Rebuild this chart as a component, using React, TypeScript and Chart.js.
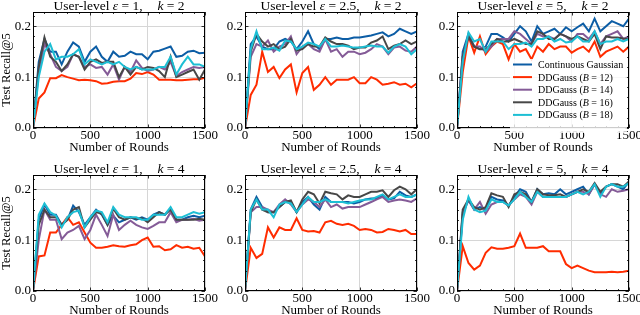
import React, { useEffect, useRef } from "react";
import { Chart, registerables } from "chart.js";
Chart.register(...registerables);

const rounds = [0, 50, 100, 150, 200, 250, 300, 350, 400, 450, 500, 550, 600, 650, 700, 750, 800, 850, 900, 950, 1000, 1050, 1100, 1150, 1200, 1250, 1300, 1350, 1400, 1450, 1500];

// eps = 1, k = 2
const e1k2Cont = [0, 0.13, 0.175, 0.15, 0.15, 0.125, 0.15, 0.168, 0.16, 0.13, 0.15, 0.16, 0.14, 0.13, 0.15, 0.14, 0.142, 0.15, 0.145, 0.145, 0.135, 0.15, 0.152, 0.156, 0.16, 0.14, 0.142, 0.15, 0.152, 0.147, 0.148];
const e1k2B12 = [0, 0.058, 0.07, 0.098, 0.098, 0.104, 0.1, 0.097, 0.094, 0.095, 0.094, 0.092, 0.087, 0.088, 0.091, 0.092, 0.092, 0.097, 0.108, 0.106, 0.11, 0.105, 0.095, 0.095, 0.095, 0.094, 0.094, 0.095, 0.096, 0.096, 0.099];
const e1k2B14 = [0, 0.11, 0.165, 0.145, 0.12, 0.112, 0.12, 0.145, 0.14, 0.12, 0.125, 0.118, 0.12, 0.105, 0.125, 0.095, 0.12, 0.11, 0.133, 0.118, 0.112, 0.115, 0.12, 0.115, 0.13, 0.102, 0.11, 0.115, 0.12, 0.118, 0.12];
const e1k2B16 = [0, 0.12, 0.178, 0.14, 0.13, 0.112, 0.125, 0.145, 0.14, 0.115, 0.13, 0.135, 0.128, 0.13, 0.13, 0.1, 0.12, 0.105, 0.12, 0.115, 0.12, 0.118, 0.112, 0.1, 0.14, 0.1, 0.105, 0.11, 0.115, 0.095, 0.115];
const e1k2B18 = [0, 0.1, 0.15, 0.165, 0.135, 0.14, 0.14, 0.145, 0.155, 0.125, 0.135, 0.13, 0.125, 0.13, 0.125, 0.13, 0.12, 0.115, 0.12, 0.115, 0.115, 0.115, 0.12, 0.12, 0.14, 0.105, 0.125, 0.14, 0.125, 0.125, 0.12];

// eps = 2.5, k = 2
const e25k2Cont = [0, 0.165, 0.18, 0.16, 0.155, 0.155, 0.17, 0.175, 0.17, 0.155, 0.17, 0.19, 0.165, 0.155, 0.175, 0.175, 0.178, 0.175, 0.175, 0.178, 0.178, 0.18, 0.182, 0.185, 0.188, 0.18, 0.185, 0.195, 0.19, 0.185, 0.19];
const e25k2B12 = [0, 0.065, 0.085, 0.15, 0.11, 0.12, 0.098, 0.115, 0.125, 0.07, 0.108, 0.12, 0.075, 0.085, 0.1, 0.085, 0.095, 0.095, 0.095, 0.1, 0.088, 0.088, 0.1, 0.095, 0.085, 0.087, 0.09, 0.085, 0.087, 0.08, 0.088];
const e25k2B14 = [0, 0.14, 0.165, 0.16, 0.172, 0.15, 0.16, 0.165, 0.18, 0.145, 0.16, 0.165, 0.155, 0.15, 0.175, 0.15, 0.155, 0.14, 0.15, 0.15, 0.145, 0.148, 0.155, 0.165, 0.16, 0.145, 0.158, 0.16, 0.152, 0.15, 0.16];
const e25k2B16 = [0, 0.15, 0.185, 0.17, 0.16, 0.165, 0.155, 0.16, 0.175, 0.152, 0.155, 0.165, 0.16, 0.16, 0.178, 0.17, 0.165, 0.165, 0.162, 0.155, 0.158, 0.158, 0.168, 0.172, 0.18, 0.155, 0.162, 0.165, 0.172, 0.165, 0.17];
const e25k2B18 = [0, 0.155, 0.19, 0.155, 0.155, 0.158, 0.152, 0.172, 0.17, 0.155, 0.16, 0.168, 0.165, 0.16, 0.175, 0.16, 0.16, 0.162, 0.16, 0.158, 0.158, 0.16, 0.162, 0.16, 0.16, 0.148, 0.16, 0.165, 0.16, 0.145, 0.155];

// eps = 5, k = 2
const e5k2Cont = [0, 0.15, 0.185, 0.16, 0.155, 0.16, 0.185, 0.185, 0.178, 0.17, 0.185, 0.2, 0.19, 0.17, 0.2, 0.185, 0.19, 0.195, 0.185, 0.198, 0.19, 0.198, 0.205, 0.19, 0.215, 0.19, 0.2, 0.21, 0.205, 0.2, 0.215];
const e5k2B12 = [0, 0.11, 0.18, 0.148, 0.18, 0.145, 0.16, 0.17, 0.165, 0.135, 0.165, 0.15, 0.155, 0.135, 0.16, 0.15, 0.165, 0.155, 0.16, 0.16, 0.148, 0.155, 0.16, 0.15, 0.17, 0.14, 0.15, 0.155, 0.16, 0.15, 0.16];
const e5k2B14 = [0, 0.14, 0.18, 0.16, 0.16, 0.15, 0.16, 0.175, 0.175, 0.175, 0.19, 0.185, 0.175, 0.165, 0.185, 0.18, 0.18, 0.175, 0.185, 0.18, 0.17, 0.185, 0.185, 0.175, 0.19, 0.165, 0.18, 0.185, 0.19, 0.175, 0.18];
const e5k2B16 = [0, 0.14, 0.18, 0.16, 0.155, 0.155, 0.165, 0.175, 0.17, 0.17, 0.175, 0.17, 0.165, 0.165, 0.19, 0.185, 0.175, 0.175, 0.185, 0.18, 0.175, 0.18, 0.175, 0.17, 0.185, 0.155, 0.18, 0.178, 0.178, 0.176, 0.175];
const e5k2B18 = [0, 0.13, 0.188, 0.17, 0.175, 0.15, 0.17, 0.17, 0.17, 0.155, 0.165, 0.165, 0.168, 0.16, 0.175, 0.175, 0.18, 0.17, 0.175, 0.168, 0.17, 0.18, 0.17, 0.17, 0.19, 0.165, 0.17, 0.17, 0.175, 0.17, 0.175];

// eps = 1, k = 4
const e1k4Cont = [0, 0.14, 0.17, 0.15, 0.15, 0.13, 0.14, 0.168, 0.155, 0.13, 0.145, 0.16, 0.15, 0.13, 0.148, 0.135, 0.14, 0.145, 0.14, 0.145, 0.14, 0.15, 0.155, 0.15, 0.162, 0.14, 0.14, 0.145, 0.148, 0.145, 0.148];
const e1k4B12 = [0, 0.068, 0.07, 0.115, 0.115, 0.13, 0.145, 0.13, 0.135, 0.115, 0.095, 0.085, 0.085, 0.087, 0.09, 0.088, 0.087, 0.09, 0.092, 0.1, 0.105, 0.087, 0.088, 0.08, 0.082, 0.09, 0.085, 0.087, 0.083, 0.085, 0.068];
const e1k4B14 = [0, 0.1, 0.16, 0.14, 0.14, 0.102, 0.115, 0.12, 0.128, 0.102, 0.12, 0.15, 0.13, 0.108, 0.15, 0.12, 0.13, 0.138, 0.13, 0.125, 0.122, 0.128, 0.135, 0.135, 0.155, 0.135, 0.14, 0.14, 0.142, 0.138, 0.14];
const e1k4B16 = [0, 0.13, 0.16, 0.145, 0.145, 0.13, 0.14, 0.16, 0.165, 0.125, 0.14, 0.155, 0.152, 0.13, 0.162, 0.145, 0.14, 0.145, 0.142, 0.143, 0.135, 0.145, 0.155, 0.15, 0.16, 0.14, 0.14, 0.14, 0.14, 0.142, 0.14];
const e1k4B18 = [0, 0.15, 0.172, 0.155, 0.148, 0.125, 0.145, 0.155, 0.158, 0.125, 0.145, 0.158, 0.155, 0.135, 0.165, 0.15, 0.145, 0.145, 0.145, 0.14, 0.14, 0.15, 0.15, 0.15, 0.165, 0.145, 0.145, 0.15, 0.155, 0.152, 0.155];

// eps = 2.5, k = 4
const e25k4Cont = [0, 0.16, 0.185, 0.165, 0.155, 0.155, 0.165, 0.175, 0.175, 0.155, 0.175, 0.185, 0.17, 0.16, 0.185, 0.175, 0.175, 0.175, 0.175, 0.172, 0.175, 0.18, 0.182, 0.182, 0.188, 0.18, 0.182, 0.195, 0.188, 0.185, 0.19];
const e25k4B12 = [0, 0.085, 0.065, 0.073, 0.125, 0.105, 0.125, 0.12, 0.12, 0.143, 0.12, 0.117, 0.118, 0.115, 0.135, 0.138, 0.132, 0.13, 0.132, 0.128, 0.12, 0.122, 0.12, 0.115, 0.116, 0.122, 0.12, 0.117, 0.12, 0.112, 0.112];
const e25k4B14 = [0, 0.155, 0.165, 0.165, 0.16, 0.155, 0.17, 0.18, 0.17, 0.155, 0.17, 0.18, 0.175, 0.165, 0.18, 0.165, 0.17, 0.162, 0.165, 0.165, 0.165, 0.17, 0.175, 0.18, 0.185, 0.175, 0.178, 0.18, 0.178, 0.175, 0.182];
const e25k4B16 = [0, 0.155, 0.18, 0.16, 0.155, 0.155, 0.165, 0.175, 0.178, 0.155, 0.18, 0.195, 0.19, 0.172, 0.195, 0.192, 0.19, 0.18, 0.188, 0.185, 0.185, 0.19, 0.195, 0.195, 0.198, 0.185, 0.198, 0.205, 0.2, 0.19, 0.2];
const e25k4B18 = [0, 0.16, 0.18, 0.16, 0.16, 0.145, 0.17, 0.175, 0.172, 0.155, 0.17, 0.185, 0.175, 0.175, 0.18, 0.175, 0.175, 0.175, 0.172, 0.175, 0.178, 0.18, 0.18, 0.185, 0.19, 0.18, 0.185, 0.19, 0.185, 0.185, 0.19];

// eps = 5, k = 4
const e5k4Cont = [0, 0.155, 0.178, 0.16, 0.165, 0.16, 0.185, 0.18, 0.178, 0.168, 0.185, 0.2, 0.195, 0.175, 0.2, 0.19, 0.192, 0.19, 0.2, 0.19, 0.195, 0.2, 0.205, 0.19, 0.21, 0.19, 0.205, 0.21, 0.205, 0.2, 0.215];
const e5k4B12 = [0, 0.088, 0.055, 0.042, 0.05, 0.075, 0.086, 0.083, 0.083, 0.085, 0.088, 0.113, 0.085, 0.085, 0.085, 0.088, 0.078, 0.078, 0.078, 0.053, 0.045, 0.05, 0.045, 0.04, 0.037, 0.037, 0.037, 0.038, 0.037, 0.038, 0.04];
const e5k4B14 = [0, 0.15, 0.18, 0.16, 0.175, 0.152, 0.17, 0.175, 0.175, 0.168, 0.18, 0.19, 0.185, 0.17, 0.195, 0.185, 0.185, 0.185, 0.185, 0.185, 0.19, 0.195, 0.195, 0.19, 0.21, 0.19, 0.185, 0.2, 0.195, 0.197, 0.2];
const e5k4B16 = [0, 0.16, 0.18, 0.165, 0.16, 0.165, 0.192, 0.188, 0.185, 0.165, 0.19, 0.195, 0.19, 0.175, 0.2, 0.19, 0.188, 0.188, 0.19, 0.185, 0.19, 0.195, 0.2, 0.195, 0.212, 0.195, 0.205, 0.21, 0.21, 0.205, 0.215];
const e5k4B18 = [0, 0.14, 0.185, 0.16, 0.155, 0.158, 0.18, 0.175, 0.175, 0.168, 0.18, 0.195, 0.185, 0.175, 0.195, 0.185, 0.185, 0.185, 0.185, 0.185, 0.19, 0.195, 0.19, 0.195, 0.21, 0.185, 0.205, 0.21, 0.205, 0.205, 0.212];

const epsLabels = ["1", "2.5", "5"];
const kLabels = ["2", "4"];
const seriesBase = ["Continuous Gaussian", "DDGauss", "DDGauss", "DDGauss", "DDGauss"];
const seriesB = ["", "12", "14", "16", "18"];
const seriesColors = ["#0C5DA5", "#FF2C00", "#845B97", "#474747", "#1DBFD4"];
const xMajorTicks = [0, 500, 1000, 1500];
const xMinorTicks = [100, 200, 300, 400, 600, 700, 800, 900, 1100, 1200, 1300, 1400];
const yMajorTicks = [0, 0.1, 0.2];
const yMinorTicks = [0.02, 0.04, 0.06, 0.08, 0.12, 0.14, 0.16, 0.18, 0.22];

const panelSeries = [
  [e1k2Cont, e1k2B12, e1k2B14, e1k2B16, e1k2B18],
  [e25k2Cont, e25k2B12, e25k2B14, e25k2B16, e25k2B18],
  [e5k2Cont, e5k2B12, e5k2B14, e5k2B16, e5k2B18],
  [e1k4Cont, e1k4B12, e1k4B14, e1k4B16, e1k4B18],
  [e25k4Cont, e25k4B12, e25k4B14, e25k4B16, e25k4B18],
  [e5k4Cont, e5k4B12, e5k4B14, e5k4B16, e5k4B18],
];

const FONT = '"Liberation Serif", "Times New Roman", serif';
const COL_LEFT = [33, 245, 457];
const ROW_TOP = [12, 175];
const AREA_W = 172;
const AREA_H = 116;
const Y_AXIS_W = 33;
const X_AXIS_H = 28;
const PAD_TOP = 12;
const PAD_RIGHT = 16;
const CANVAS_W = Y_AXIS_W + AREA_W + PAD_RIGHT;
const CANVAS_H = PAD_TOP + AREA_H + X_AXIS_H;

type Part = { t: string; it?: boolean; gap?: number };

function drawParts(ctx: CanvasRenderingContext2D, parts: Part[], x: number, y: number, size: number, align: "center" | "left") {
  const widths = parts.map((p) => {
    ctx.font = `${p.it ? "italic " : ""}${size}px ${FONT}`;
    return ctx.measureText(p.t).width + (p.gap || 0) * size;
  });
  const total = widths.reduce((a, b) => a + b, 0);
  let cx = align === "center" ? x - total / 2 : x;
  ctx.textAlign = "left";
  ctx.textBaseline = "alphabetic";
  parts.forEach((p, i) => {
    ctx.font = `${p.it ? "italic " : ""}${size}px ${FONT}`;
    ctx.fillText(p.t, cx, y);
    cx += widths[i];
  });
}

const decorPlugin = {
  id: "decor",
  afterDatasetsDraw(chart: any, _args: any, opts: any) {
    const { ctx, chartArea: a, scales } = chart;
    const xs = scales.x;
    const ys = scales.y;
    ctx.save();
    ctx.strokeStyle = "#000";
    ctx.lineWidth = 0.8;
    const tick = (x1: number, y1: number, x2: number, y2: number) => {
      ctx.beginPath();
      ctx.moveTo(x1, y1);
      ctx.lineTo(x2, y2);
      ctx.stroke();
    };
    const xt = (vals: number[], len: number) => {
      vals.forEach((v) => {
        const px = Math.round(xs.getPixelForValue(v)) + 0.5;
        tick(px, a.bottom, px, a.bottom - len);
        tick(px, a.top, px, a.top + len);
      });
    };
    const yt = (vals: number[], len: number) => {
      vals.forEach((v) => {
        const py = Math.round(ys.getPixelForValue(v)) + 0.5;
        tick(a.left, py, a.left + len, py);
        tick(a.right, py, a.right - len, py);
      });
    };
    xt(xMajorTicks, 3.5);
    xt(xMinorTicks, 2);
    yt(yMajorTicks, 3.5);
    yt(yMinorTicks, 2);
    ctx.lineWidth = 1;
    ctx.strokeRect(Math.round(a.left) + 0.5, Math.round(a.top) + 0.5, Math.round(a.right - a.left) - 1, Math.round(a.bottom - a.top) - 1);

    // title
    ctx.fillStyle = "#000";
    drawParts(
      ctx,
      [
        { t: "User-level " },
        { t: "ε", it: true },
        { t: " = " + opts.eps + ",", gap: 1.1 },
        { t: "k", it: true },
        { t: " = " + opts.k },
      ],
      (a.left + a.right) / 2,
      a.top - 2.5,
      13.5,
      "center"
    );

    if (opts.legend) {
      ctx.fillStyle = "rgba(255,255,255,0.8)";
      ctx.fillRect(a.right - 119, a.top + 47, 117, 74);
      for (let i = 0; i < seriesBase.length; i++) {
        const y = a.top + 52.5 + i * 12.6;
        ctx.strokeStyle = seriesColors[i];
        ctx.lineWidth = 2;
        tick(a.right - 116, y, a.right - 97, y);
        ctx.fillStyle = "#000";
        const parts: Part[] = seriesB[i]
          ? [{ t: seriesBase[i] + " (" }, { t: "B", it: true }, { t: " = " + seriesB[i] + ")" }]
          : [{ t: seriesBase[i] }];
        drawParts(ctx, parts, a.right - 91, y + 3.5, 10, "left");
      }
    }
    ctx.restore();
  },
};

export default function App() {
  const refs = useRef<(HTMLCanvasElement | null)[]>([]);
  useEffect(() => {
    const charts: Chart[] = [];
    panelSeries.forEach((series, idx) => {
      const col = idx % 3;
      const row = Math.floor(idx / 3);
      const canvas = refs.current[idx];
      if (!canvas) return;
      const chart = new Chart(canvas, {
        type: "line",
        data: {
          datasets: series.map((vals, si) => ({
            label: seriesBase[si] + (seriesB[si] ? ` (B = ${seriesB[si]})` : ""),
            data: rounds.map((r, i) => ({ x: r, y: vals[i] })),
            borderColor: seriesColors[si],
            backgroundColor: seriesColors[si],
            borderWidth: 2,
            pointRadius: 0,
            tension: 0,
            order: series.length - si,
          })),
        },
        options: {
          animation: false,
          responsive: false,
          devicePixelRatio: 1,
          layout: { padding: { top: PAD_TOP, right: PAD_RIGHT, left: 0, bottom: 0 } },
          plugins: {
            legend: { display: false },
            tooltip: { enabled: false },
            decor: { eps: epsLabels[col], k: kLabels[row], legend: idx === 2 },
          } as any,
          scales: {
            x: {
              type: "linear",
              min: 0,
              max: 1500,
              afterFit: (s: any) => {
                s.height = X_AXIS_H;
              },
              ticks: {
                stepSize: 500,
                padding: 0,
                color: "#000",
                font: { family: FONT, size: 13 },
                maxRotation: 0,
                callback: (v: any) => String(v),
              },
              grid: { color: "#d6d6d6", lineWidth: 1, drawTicks: false },
              border: { display: false },
              title: {
                display: true,
                text: "Number of Rounds",
                color: "#000",
                font: { family: FONT, size: 13 },
                padding: { top: 0, bottom: 1 },
              },
            },
            y: {
              type: "linear",
              min: 0,
              max: 0.228,
              afterFit: (s: any) => {
                s.width = Y_AXIS_W;
              },
              ticks: {
                stepSize: 0.1,
                includeBounds: false,
                padding: 2,
                color: "#000",
                font: { family: FONT, size: 13 },
                callback: (v: any) => Number(v).toFixed(1),
              },
              grid: { color: "#d6d6d6", lineWidth: 1, drawTicks: false },
              border: { display: false },
              title: {
                display: col === 0,
                text: "Test Recall@5",
                color: "#000",
                font: { family: FONT, size: 12.5, lineHeight: 1.0 },
                padding: { top: 0, bottom: 0 },
              },
            },
          },
        },
        plugins: [decorPlugin],
      } as any);
      charts.push(chart);
    });
    return () => charts.forEach((c) => c.destroy());
  }, []);

  return (
    <div style={{ position: "fixed", left: 0, top: 0, width: 640, height: 315, overflow: "hidden", background: "#fff" }}>
      {panelSeries.map((_, idx) => {
        const col = idx % 3;
        const row = Math.floor(idx / 3);
        return (
          <canvas
            key={idx}
            ref={(el) => {
              refs.current[idx] = el;
            }}
            width={CANVAS_W}
            height={CANVAS_H}
            style={{
              position: "absolute",
              left: COL_LEFT[col] - Y_AXIS_W,
              top: ROW_TOP[row] - PAD_TOP,
              width: CANVAS_W,
              height: CANVAS_H,
            }}
          />
        );
      })}
    </div>
  );
}
